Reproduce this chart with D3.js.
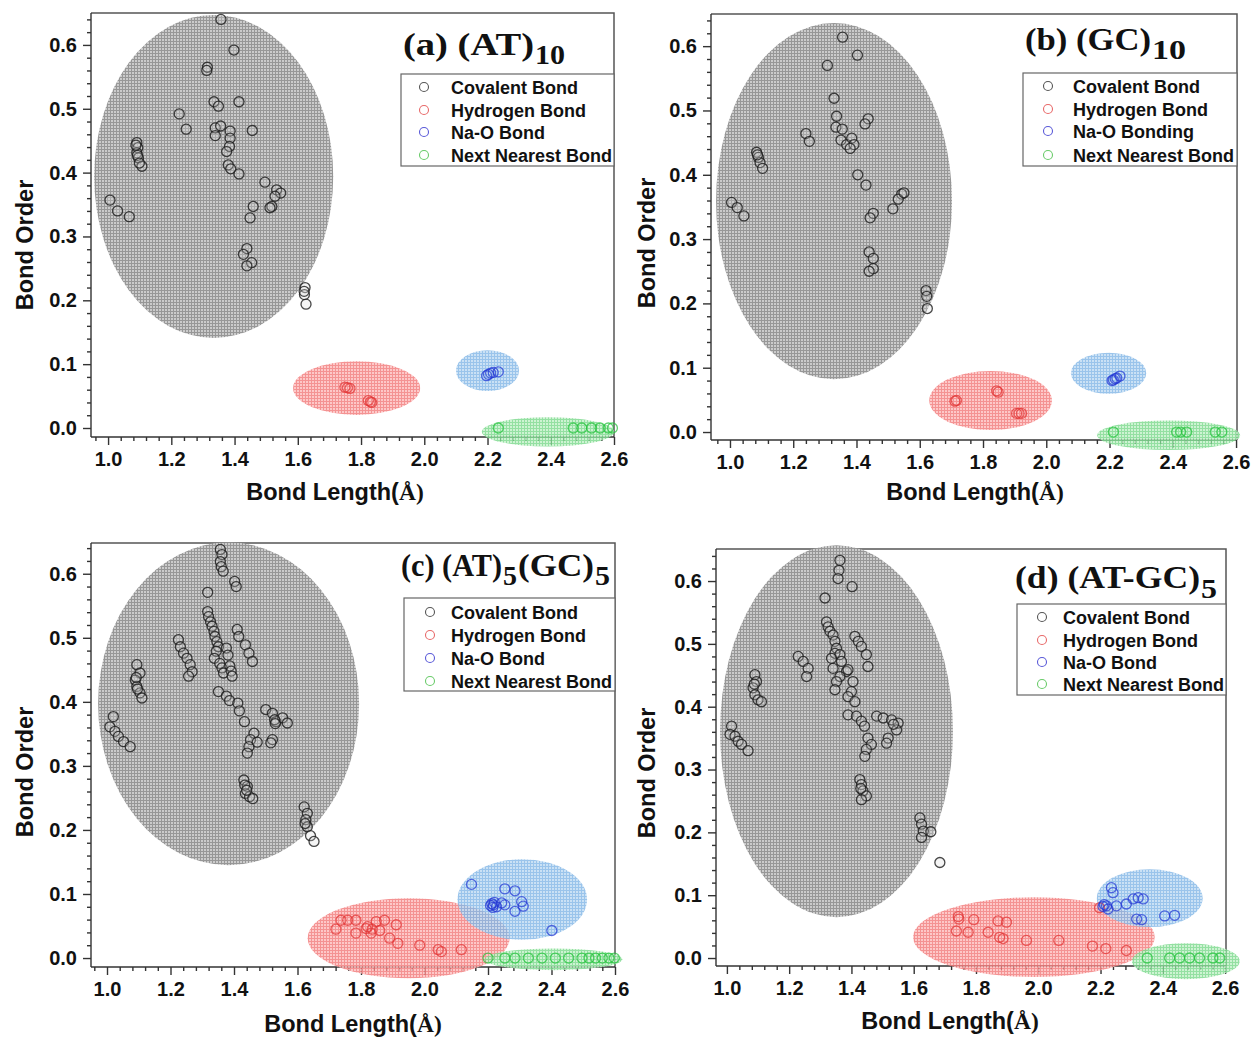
<!DOCTYPE html>
<html><head><meta charset="utf-8">
<script src="https://cdn.jsdelivr.net/npm/d3@7"></script>
<style>body{margin:0;background:#fff}</style></head>
<body><svg id="chart" width="1257" height="1037"></svg>
<script>
// ---------------- DATA (bond length Å, bond order) ----------------
const covalentA = [[1.357,0.640],[1.398,0.592],[1.314,0.565],[1.312,0.560],[1.335,0.511],[1.349,0.504],[1.414,0.511],[1.225,0.492],[1.247,0.468],[1.339,0.470],[1.339,0.458],[1.356,0.473],[1.386,0.465],[1.386,0.454],[1.384,0.441],[1.375,0.433],[1.456,0.466],[1.380,0.412],[1.388,0.406],[1.414,0.398],[1.091,0.447],[1.094,0.439],[1.091,0.431],[1.096,0.423],[1.107,0.410],[1.088,0.443],[1.093,0.427],[1.099,0.415],[1.006,0.357],[1.030,0.340],[1.067,0.331],[1.496,0.385],[1.533,0.373],[1.546,0.368],[1.528,0.363],[1.518,0.347],[1.512,0.345],[1.459,0.347],[1.449,0.329],[1.439,0.281],[1.428,0.272],[1.454,0.259],[1.439,0.254],[1.623,0.220],[1.621,0.209],[1.626,0.194],[1.620,0.214]];
const hydrogenA = [[1.749,0.064],[1.757,0.063],[1.765,0.062],[1.823,0.043],[1.830,0.041],[1.834,0.040]];
const naoA = [[2.197,0.082],[2.203,0.084],[2.210,0.086],[2.218,0.087],[2.234,0.088]];
const nextA = [[2.234,0],[2.471,0],[2.498,0],[2.529,0],[2.556,0],[2.582,0],[2.595,0]];
const regionsA = [[1.334,0.394,0.378,0.253],[1.786,0.0625,0.201,0.042],[2.200,0.0898,0.0996,0.032],[2.391,-0.006,0.209,0.023]];

const covalentB = [[1.356,0.614],[1.403,0.586],[1.308,0.570],[1.329,0.519],[1.337,0.491],[1.335,0.474],[1.355,0.471],[1.437,0.487],[1.427,0.479],[1.240,0.464],[1.251,0.452],[1.351,0.454],[1.369,0.447],[1.385,0.457],[1.392,0.447],[1.380,0.441],[1.084,0.435],[1.090,0.427],[1.095,0.419],[1.103,0.410],[1.087,0.431],[1.404,0.400],[1.430,0.384],[1.005,0.357],[1.023,0.349],[1.044,0.336],[1.543,0.370],[1.532,0.362],[1.515,0.347],[1.550,0.372],[1.453,0.340],[1.443,0.333],[1.440,0.280],[1.453,0.270],[1.453,0.254],[1.440,0.250],[1.620,0.220],[1.622,0.211],[1.624,0.192]];
const hydrogenB = [[1.711,0.048],[1.716,0.049],[1.848,0.062],[1.843,0.064],[1.906,0.029],[1.914,0.029],[1.922,0.029]];
const naoB = [[2.208,0.080],[2.212,0.081],[2.218,0.083],[2.223,0.084],[2.233,0.087]];
const nextB = [[2.212,0],[2.412,0],[2.425,0],[2.444,0],[2.534,0],[2.555,0]];
const regionsB = [[1.329,0.359,0.373,0.277],[1.824,0.049,0.194,0.046],[2.197,0.0914,0.119,0.032],[2.387,-0.005,0.226,0.023]];

const covalentC = [[1.357,0.638],[1.362,0.630],[1.357,0.619],[1.360,0.611],[1.366,0.604],[1.402,0.588],[1.407,0.580],[1.317,0.571],[1.317,0.541],[1.320,0.533],[1.326,0.525],[1.331,0.518],[1.337,0.510],[1.340,0.502],[1.346,0.494],[1.351,0.486],[1.344,0.479],[1.338,0.468],[1.355,0.460],[1.362,0.453],[1.367,0.445],[1.376,0.484],[1.381,0.473],[1.387,0.456],[1.391,0.448],[1.394,0.440],[1.410,0.513],[1.415,0.502],[1.436,0.489],[1.447,0.476],[1.458,0.463],[1.351,0.416],[1.376,0.409],[1.386,0.402],[1.412,0.398],[1.417,0.386],[1.433,0.369],[1.225,0.497],[1.231,0.486],[1.241,0.476],[1.252,0.468],[1.262,0.458],[1.268,0.447],[1.257,0.440],[1.094,0.458],[1.104,0.445],[1.089,0.434],[1.094,0.424],[1.104,0.414],[1.110,0.406],[1.092,0.438],[1.096,0.420],[1.020,0.377],[1.009,0.361],[1.025,0.354],[1.036,0.346],[1.052,0.338],[1.073,0.330],[1.500,0.388],[1.521,0.382],[1.532,0.369],[1.553,0.375],[1.568,0.367],[1.521,0.341],[1.516,0.336],[1.528,0.372],[1.530,0.366],[1.463,0.351],[1.452,0.341],[1.447,0.330],[1.442,0.320],[1.473,0.337],[1.431,0.278],[1.442,0.268],[1.436,0.257],[1.449,0.252],[1.459,0.249],[1.434,0.270],[1.440,0.262],[1.621,0.236],[1.631,0.226],[1.626,0.216],[1.631,0.205],[1.641,0.191],[1.652,0.182],[1.624,0.210]];
const hydrogenC = [[1.721,0.045],[1.737,0.059],[1.758,0.059],[1.784,0.059],[1.784,0.039],[1.821,0.049],[1.832,0.039],[1.848,0.057],[1.859,0.043],[1.874,0.059],[1.890,0.031],[1.911,0.052],[1.916,0.023],[1.985,0.020],[2.043,0.013],[2.053,0.010],[2.116,0.013],[1.835,0.045],[1.816,0.046]];
const naoC = [[2.148,0.115],[2.253,0.108],[2.285,0.105],[2.217,0.083],[2.227,0.080],[2.243,0.086],[2.253,0.083],[2.285,0.073],[2.306,0.088],[2.311,0.081],[2.401,0.043],[2.208,0.082],[2.212,0.085],[2.220,0.087],[2.215,0.079]];
const nextC = [[2.200,0],[2.253,0],[2.285,0],[2.327,0],[2.370,0],[2.412,0],[2.454,0],[2.496,0],[2.518,0],[2.539,0],[2.560,0],[2.581,0],[2.598,0]];
const regionsC = [[1.383,0.397,0.411,0.252],[1.950,0.031,0.318,0.0625],[2.308,0.0914,0.204,0.063],[2.406,-0.002,0.217,0.017]];

const covalentD = [[1.363,0.633],[1.360,0.617],[1.357,0.604],[1.402,0.591],[1.315,0.573],[1.320,0.535],[1.325,0.527],[1.331,0.520],[1.341,0.514],[1.347,0.504],[1.352,0.493],[1.347,0.485],[1.363,0.483],[1.336,0.477],[1.341,0.461],[1.368,0.472],[1.384,0.456],[1.363,0.448],[1.352,0.440],[1.347,0.427],[1.389,0.459],[1.405,0.440],[1.400,0.424],[1.389,0.416],[1.411,0.408],[1.389,0.387],[1.416,0.385],[1.432,0.377],[1.442,0.369],[1.411,0.512],[1.422,0.504],[1.432,0.496],[1.448,0.483],[1.453,0.464],[1.229,0.480],[1.245,0.472],[1.261,0.461],[1.256,0.448],[1.090,0.451],[1.095,0.440],[1.084,0.430],[1.090,0.419],[1.100,0.411],[1.111,0.408],[1.088,0.436],[1.015,0.369],[1.010,0.356],[1.026,0.353],[1.036,0.345],[1.047,0.340],[1.068,0.330],[1.481,0.385],[1.502,0.382],[1.529,0.379],[1.550,0.374],[1.545,0.363],[1.518,0.350],[1.513,0.342],[1.535,0.372],[1.453,0.350],[1.464,0.340],[1.448,0.332],[1.443,0.321],[1.427,0.284],[1.432,0.276],[1.437,0.266],[1.448,0.258],[1.432,0.252],[1.430,0.270],[1.620,0.223],[1.625,0.213],[1.631,0.202],[1.625,0.192],[1.655,0.201],[1.684,0.152]];
const hydrogenD = [[1.743,0.066],[1.793,0.061],[1.871,0.059],[1.898,0.057],[1.737,0.043],[1.775,0.041],[1.839,0.041],[1.876,0.033],[1.887,0.031],[1.962,0.028],[2.066,0.028],[2.174,0.019],[2.217,0.015],[2.283,0.012],[2.197,0.080],[1.745,0.062]];
const naoD = [[2.235,0.112],[2.240,0.104],[2.219,0.083],[2.224,0.078],[2.251,0.083],[2.283,0.086],[2.305,0.094],[2.321,0.096],[2.337,0.094],[2.316,0.062],[2.332,0.061],[2.406,0.067],[2.438,0.068],[2.212,0.085],[2.208,0.082]];
const nextD = [[2.350,0],[2.422,0],[2.454,0],[2.486,0],[2.518,0],[2.561,0],[2.583,0]];
const regionsD = [[1.352,0.361,0.374,0.296],[1.986,0.0333,0.388,0.0635],[2.358,0.0952,0.170,0.046],[2.474,-0.005,0.173,0.0286]];

const legendA = ["Covalent Bond","Hydrogen Bond","Na-O Bond","Next Nearest Bond"];
const legendB = ["Covalent Bond","Hydrogen Bond","Na-O Bonding","Next Nearest Bond"];
const legendC = ["Covalent Bond","Hydrogen Bond","Na-O Bond","Next Nearest Bond"];
const legendD = ["Covalent Bond","Hydrogen Bond","Na-O Bond","Next Nearest Bond"];

const xTickLabels = ["1.0","1.2","1.4","1.6","1.8","2.0","2.2","2.4","2.6"];
const yTickLabels = ["0.0","0.1","0.2","0.3","0.4","0.5","0.6"];
const xAxisTitle = "Bond Length(";
const xAxisUnit = "Å)";
const yAxisTitle = "Bond Order";

// title pieces: [text, isSubscript]
const titleA = [["(a) (AT)",0],["10",1]];
const titleB = [["(b) (GC)",0],["10",1]];
const titleC = [["(c) (AT)",0],["5",1],["(GC)",0],["5",1]];
const titleD = [["(d) (AT-GC)",0],["5",1]];

// ---------------- LAYOUT ----------------
const panels = [
  {data:[covalentA,hydrogenA,naoA,nextA], regions:regionsA, legend:legendA, title:titleA,
   f:{l:91,t:13,r:614,b:437}, xd:[0.946,2.6], yd:[-0.0141,0.650],
   lg:{x:401,y:74,w:213,h:92,sx:23,tx:50,rows:[13,36,58,81]},
   tt:{x:403,y:55,sy:64,widths:[131,30]},
   xt:{x:335,y:500}, yt:{x:33,y:245}},
  {data:[covalentB,hydrogenB,naoB,nextB], regions:regionsB, legend:legendB, title:titleB,
   f:{l:711,t:14,r:1237,b:440}, xd:[0.94,2.603], yd:[-0.0124,0.650],
   lg:{x:1023,y:73,w:214,h:93,sx:25,tx:50,rows:[13,36,58,82]},
   tt:{x:1025,y:50,sy:59,widths:[126,34]},
   xt:{x:975,y:500}, yt:{x:655,y:243}},
  {data:[covalentC,hydrogenC,naoC,nextC], regions:regionsC, legend:legendC, title:titleC,
   f:{l:91,t:543,r:615,b:967}, xd:[0.9496,2.6], yd:[-0.014,0.648],
   lg:{x:404,y:598,w:211,h:93,sx:26,tx:47,rows:[14,37,60,83]},
   tt:{x:401,y:576,sy:585,widths:[101,14,76,15]},
   xt:{x:353,y:1032}, yt:{x:33,y:772}},
  {data:[covalentD,hydrogenD,naoD,nextD], regions:regionsD, legend:legendD, title:titleD,
   f:{l:716,t:549,r:1226,b:966}, xd:[0.965,2.603], yd:[-0.0127,0.651],
   lg:{x:1017,y:604,w:209,h:91,sx:25,tx:46,rows:[13,36,58,80]},
   tt:{x:1015,y:588,sy:598,widths:[185,16]},
   xt:{x:950,y:1029}, yt:{x:655,y:773}}
];

const seriesStroke = ["#1a1a1a","#e23535","#2438d4","#22c23a"];
const legendStroke = ["#555555","#e86a6a","#5a5ad8","#6acb6a"];
const patternColors = [["#979797","#cbcbcb"],["#f27b7b","#fcbcbc"],["#84b7e6","#bedaf3"],["#7dd98e","#c2f0c8"]];
const FONT = "'Liberation Sans', Arial, sans-serif";
const SERIF = "'Liberation Serif', 'Times New Roman', serif";

const svg = d3.select("#chart");
const defs = svg.append("defs");
patternColors.forEach((c,i)=>{
  const p = defs.append("pattern").attr("id","pat"+i).attr("width",3).attr("height",3).attr("patternUnits","userSpaceOnUse");
  p.append("rect").attr("width",3).attr("height",3).attr("fill",c[0]);
  p.append("rect").attr("width",2).attr("height",2).attr("fill",c[1]);
});

const xMajor = xTickLabels.map(Number);
const yMajor = yTickLabels.map(Number);

panels.forEach(P=>{
  const g = svg.append("g");
  const x = d3.scaleLinear().domain(P.xd).range([P.f.l,P.f.r]);
  const y = d3.scaleLinear().domain(P.yd).range([P.f.b,P.f.t]);
  const xMinor = d3.range(0,60).map(i=>+(0.8+0.04*i).toFixed(2)).filter(v=>v>=P.xd[0]&&v<=P.xd[1]&&!xMajor.some(m=>Math.abs(m-v)<1e-6));
  const yMinor = d3.range(0,40).map(i=>+(0.02*i).toFixed(2)).filter(v=>v>=P.yd[0]&&v<=P.yd[1]&&!yMajor.some(m=>Math.abs(m-v)<1e-6));

  // frame top/right
  g.append("path").attr("d",`M${P.f.l},${P.f.t}H${P.f.r}V${P.f.b}`).attr("fill","none").attr("stroke","#555").attr("stroke-width",1.5);

  // axes
  const ax = g.append("g").attr("transform",`translate(0,${P.f.b})`)
    .call(d3.axisBottom(x).tickValues(xMajor).tickFormat((d,i)=>xTickLabels[i]).tickSize(8).tickPadding(7).tickSizeOuter(0));
  const axm = g.append("g").attr("transform",`translate(0,${P.f.b})`)
    .call(d3.axisBottom(x).tickValues(xMinor).tickFormat("").tickSize(4).tickSizeOuter(0));
  axm.select(".domain").remove();
  const ay = g.append("g").attr("transform",`translate(${P.f.l},0)`)
    .call(d3.axisLeft(y).tickValues(yMajor).tickFormat((d,i)=>yTickLabels[i]).tickSize(8).tickPadding(6).tickSizeOuter(0));
  const aym = g.append("g").attr("transform",`translate(${P.f.l},0)`)
    .call(d3.axisLeft(y).tickValues(yMinor).tickFormat("").tickSize(4).tickSizeOuter(0));
  aym.select(".domain").remove();
  [ax,axm,ay,aym].forEach(a=>{
    a.selectAll("path,line").attr("stroke","#333").attr("stroke-width",1.4);
    a.selectAll("text").attr("font-family",FONT).attr("font-weight","bold").attr("font-size",20).attr("fill","#111");
  });
  ay.select(".domain").attr("d",`M0,${P.f.b}V${P.f.t}`);
  ax.select(".domain").attr("d",`M${P.f.l},0H${P.f.r}`);

  // shaded regions (ellipses)
  g.selectAll("ellipse.reg").data(P.regions).join("ellipse").attr("class","reg")
    .attr("cx",d=>x(d[0])).attr("cy",d=>y(d[1]))
    .attr("rx",d=>x(d[0]+d[2])-x(d[0])).attr("ry",d=>y(d[1])-y(d[1]+d[3]))
    .attr("fill",(d,i)=>`url(#pat${i})`).attr("opacity",(d,i)=>i===0?1:0.82);

  // points
  P.data.forEach((series,si)=>{
    g.append("g").selectAll("circle").data(series).join("circle")
      .attr("cx",d=>x(d[0])).attr("cy",d=>y(d[1])).attr("r",5)
      .attr("fill",si===0?"rgba(215,215,215,0.25)":"none")
      .attr("stroke",seriesStroke[si]).attr("stroke-width",1.3).attr("stroke-opacity",si===0?0.8:0.72);
  });

  // legend
  const L = g.append("g").attr("transform",`translate(${P.lg.x},${P.lg.y})`);
  L.append("rect").attr("width",P.lg.w).attr("height",P.lg.h).attr("fill","#fff").attr("stroke","#666").attr("stroke-width",1.2);
  P.legend.forEach((t,i)=>{
    L.append("circle").attr("cx",P.lg.sx).attr("cy",P.lg.rows[i]).attr("r",4.5).attr("fill","none").attr("stroke",legendStroke[i]).attr("stroke-width",1.1);
    L.append("text").attr("x",P.lg.tx).attr("y",P.lg.rows[i]+6.5).text(t)
      .attr("font-family",FONT).attr("font-weight","bold").attr("font-size",18).attr("fill","#111");
  });

  // title
  let cx = P.tt.x;
  P.title.forEach((part,i)=>{
    const w = P.tt.widths[i];
    g.append("text").attr("x",cx).attr("y",part[1]?P.tt.sy:P.tt.y).text(part[0])
      .attr("font-family",SERIF).attr("font-weight","bold").attr("font-size",part[1]?28:31).attr("fill","#111")
      .attr("textLength",w).attr("lengthAdjust","spacingAndGlyphs");
    cx += w + 1;
  });

  // axis titles
  const xtT = g.append("text").attr("x",P.xt.x).attr("y",P.xt.y).attr("text-anchor","middle")
    .attr("font-family",FONT).attr("font-weight","bold").attr("font-size",23.5).attr("fill","#111");
  xtT.append("tspan").text(xAxisTitle);
  xtT.append("tspan").attr("font-family",SERIF).text(xAxisUnit);
  g.append("text").attr("transform",`translate(${P.yt.x},${P.yt.y}) rotate(-90)`).attr("text-anchor","middle")
    .attr("font-family",FONT).attr("font-weight","bold").attr("font-size",23.5).attr("fill","#111").text(yAxisTitle);
});
</script>
</body></html>
